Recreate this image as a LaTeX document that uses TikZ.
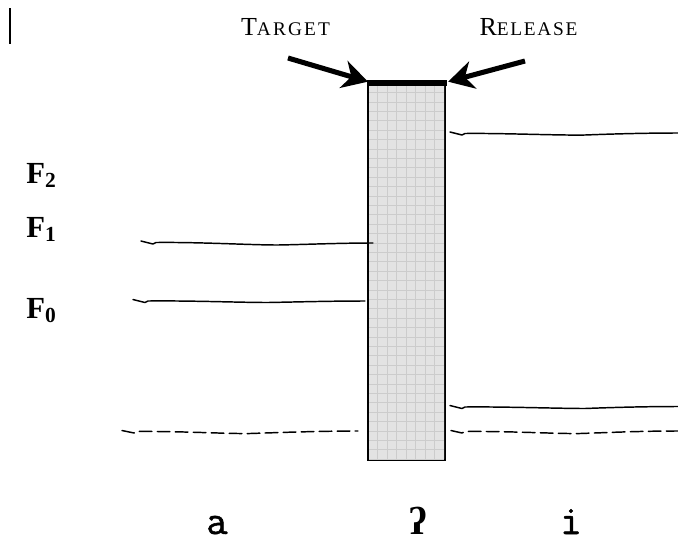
\documentclass[tikz,border=0pt]{standalone}
\usepackage{fontspec}
\setmainfont{Liberation Serif}
\newfontfamily\ipafont{Liberation Serif}
\newfontfamily\segfont[FakeBold=1.2]{Latin Modern Mono}
\usetikzlibrary{arrows.meta}
\begin{document}
\begin{tikzpicture}[x=0.75pt,y=-0.75pt,
  hand/.style={line width=1.1pt, line cap=round, line join=round},
  dashhand/.style={hand, dash pattern=on 9.5pt off 4pt},
  bigarrow/.style={line width=3.8pt, -{Stealth[length=19pt,width=21pt,inset=6pt]}},
  flabel/.style={anchor=base west, inner sep=0pt, font=\fontsize{23}{23}\selectfont\bfseries},
  caplabel/.style={anchor=base, inner sep=0pt},
  seg/.style={anchor=base, inner sep=0pt, font=\fontsize{31}{31}\selectfont\segfont}]
\useasboundingbox (0,0) rectangle (678,544);
% cursor bar
\draw[line width=1.6pt] (10,8) -- (10,44);
% bar
\node[draw, line width=1.1pt, fill=gray!22, minimum width=76*0.75pt, minimum height=376*0.75pt, inner sep=0pt, anchor=north west] (bar) at (368,83) {};
\begin{scope}
\clip (368,83) rectangle (444,459);
\foreach \i in {0,...,8} \draw[gray!40, line width=0.4pt] (368+\i*9.5,83) -- (368+\i*9.5,459);
\foreach \j in {0,...,40} \draw[gray!40, line width=0.4pt] (368,83+\j*9.4) -- (444,83+\j*9.4);
\end{scope}
\draw[line width=1.1pt] (bar.north west) rectangle (bar.south east);
\draw[line width=3.8pt] ([xshift=-1pt]bar.north west) -- ([xshift=1.5pt]bar.north east);
% labels
\node[caplabel] (target) at (285.5,35) {\addfontfeature{LetterSpace=11}\fontsize{19.5}{19.5}\selectfont T\fontsize{14.5}{14.5}\selectfont ARGET};
\node[caplabel] (release) at (528.5,35) {\addfontfeature{LetterSpace=9}\fontsize{19.5}{19.5}\selectfont R\fontsize{14.5}{14.5}\selectfont ELEASE};
\coordinate (tl) at (288,58);
\coordinate (tr) at (525,61);
\draw[bigarrow] (tl) -- ([yshift=1pt]bar.north west);
\draw[bigarrow] (tr) -- ([xshift=2pt,yshift=1pt]bar.north east);
% F labels
\node[flabel] (f2) at (26,183) {F\textsubscript{2}};
\node[flabel] (f1) at (26,237) {F\textsubscript{1}};
\node[flabel] (f0) at (26,318) {F\textsubscript{0}};
% left formant lines
\draw[hand] (141,241) -- (153,244) -- (156,242.5) .. controls (200,242) and (250,245) .. (278,245) .. controls (305,244.5) and (340,243) .. (373,243);
\draw[hand] (133,299.5) -- (145,302.5) -- (148,301) .. controls (190,300.5) and (240,302.5) .. (268,302.5) .. controls (295,302) and (330,301) .. (365,301);
% right formant lines
\draw[hand] (450,132) -- (462,135) -- (465,133.5) .. controls (500,133) and (560,135.5) .. (585,135) .. controls (610,134) and (645,133) .. (678,133);
\draw[hand] (450,405.5) -- (462,408.5) -- (465,407) .. controls (500,406.5) and (560,408.5) .. (585,408.5) .. controls (610,407.5) and (645,406.5) .. (678,406.5);
% dashed lines
\draw[dashhand] (122,430.5) -- (134,433) -- (136,431.5) .. controls (180,431) and (230,434) .. (250,433.5) .. controls (280,432.5) and (320,431) .. (358,431);
\draw[dashhand] (451,430.5) -- (462,433) -- (465,431.5) .. controls (510,431) and (560,434) .. (580,433.5) .. controls (610,432.5) and (640,431) .. (678,431);
% segments
\node[seg] (sa) at (217,534) {a};
\node[seg, font=\fontsize{29}{29}\selectfont\ipafont\bfseries] (sq) at (418,534) {ʔ};
\node[seg] (si) at (571,534) {i};
\end{tikzpicture}
\end{document}
